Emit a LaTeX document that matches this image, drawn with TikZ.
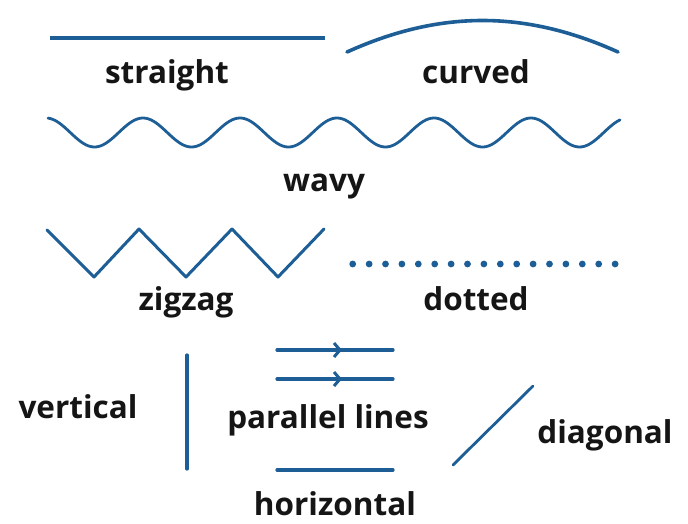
\documentclass[tikz,border=0pt]{standalone}
\usepackage{fontspec}
\setmainfont{Open Sans}
\usepackage{tikz}
\usetikzlibrary{arrows.meta,decorations.markings}
\definecolor{LineBlue}{HTML}{1E5E96}
\definecolor{LabelInk}{HTML}{151515}

\begin{document}
\begin{tikzpicture}[x=1pt,y=-1pt, line cap=round, line join=round,
    every node/.style={font=\fontsize{31.5}{36}\selectfont\bfseries, text=LabelInk, anchor=base, inner sep=0pt},
    shapeline/.style={draw=LineBlue, line width=3.2pt},
    midarrow/.style={postaction={decorate}, decoration={markings,
      mark=at position 0.56 with {\arrow{Straight Barb[length=6pt,width=14pt,line width=3pt]}}}}]
  \useasboundingbox (0,0) rectangle (688,523);
  % top row
  \draw[shapeline, line width=3.6pt, line cap=butt] (50,38) -- (325,38);
  \node (straightlabel) at (167,83) {straight};
  \draw[shapeline, line width=3.6pt] (347,52) .. controls (440,10) and (525,10) .. (618,52);
  \node (curvedlabel) at (476,83) {curved};
  % wave
  \draw[shapeline, line width=2.8pt] plot[domain=48:620, samples=240, smooth]
    (\x, {132.5-14.5*cos(3.7113*(\x-46))});
  \node (wavylabel) at (324,191) {wavy};
  % zigzag and dots
  \draw[shapeline, line width=3pt] (47,230) -- (94,277) -- (139,229) -- (186,277)
    -- (232,229) -- (278,277) -- (324,229);
  \node (zigzaglabel) at (186,310) {zigzag};
  \foreach \i in {0,...,16}
    \fill[LineBlue] (352.7+16.4*\i,264) circle (3.4);
  \node (dottedlabel) at (476,310) {dotted};
  % bottom group
  \node (verticallabel) at (78,418) {vertical};
  \draw[shapeline] (187,355) -- (187,469);
  \draw[shapeline, midarrow] (277,350) -- (393,350);
  \draw[shapeline, midarrow] (277,379) -- (393,379);
  \node (parallellabel) at (328,428) {parallel lines};
  \draw[shapeline] (277,470) -- (393,470);
  \node (horizontallabel) at (335,515) {horizontal};
  \draw[shapeline, line width=2.8pt] (453,465) -- (533,386);
  \node (diagonallabel) at (605,443) {diagonal};
\end{tikzpicture}
\end{document}
